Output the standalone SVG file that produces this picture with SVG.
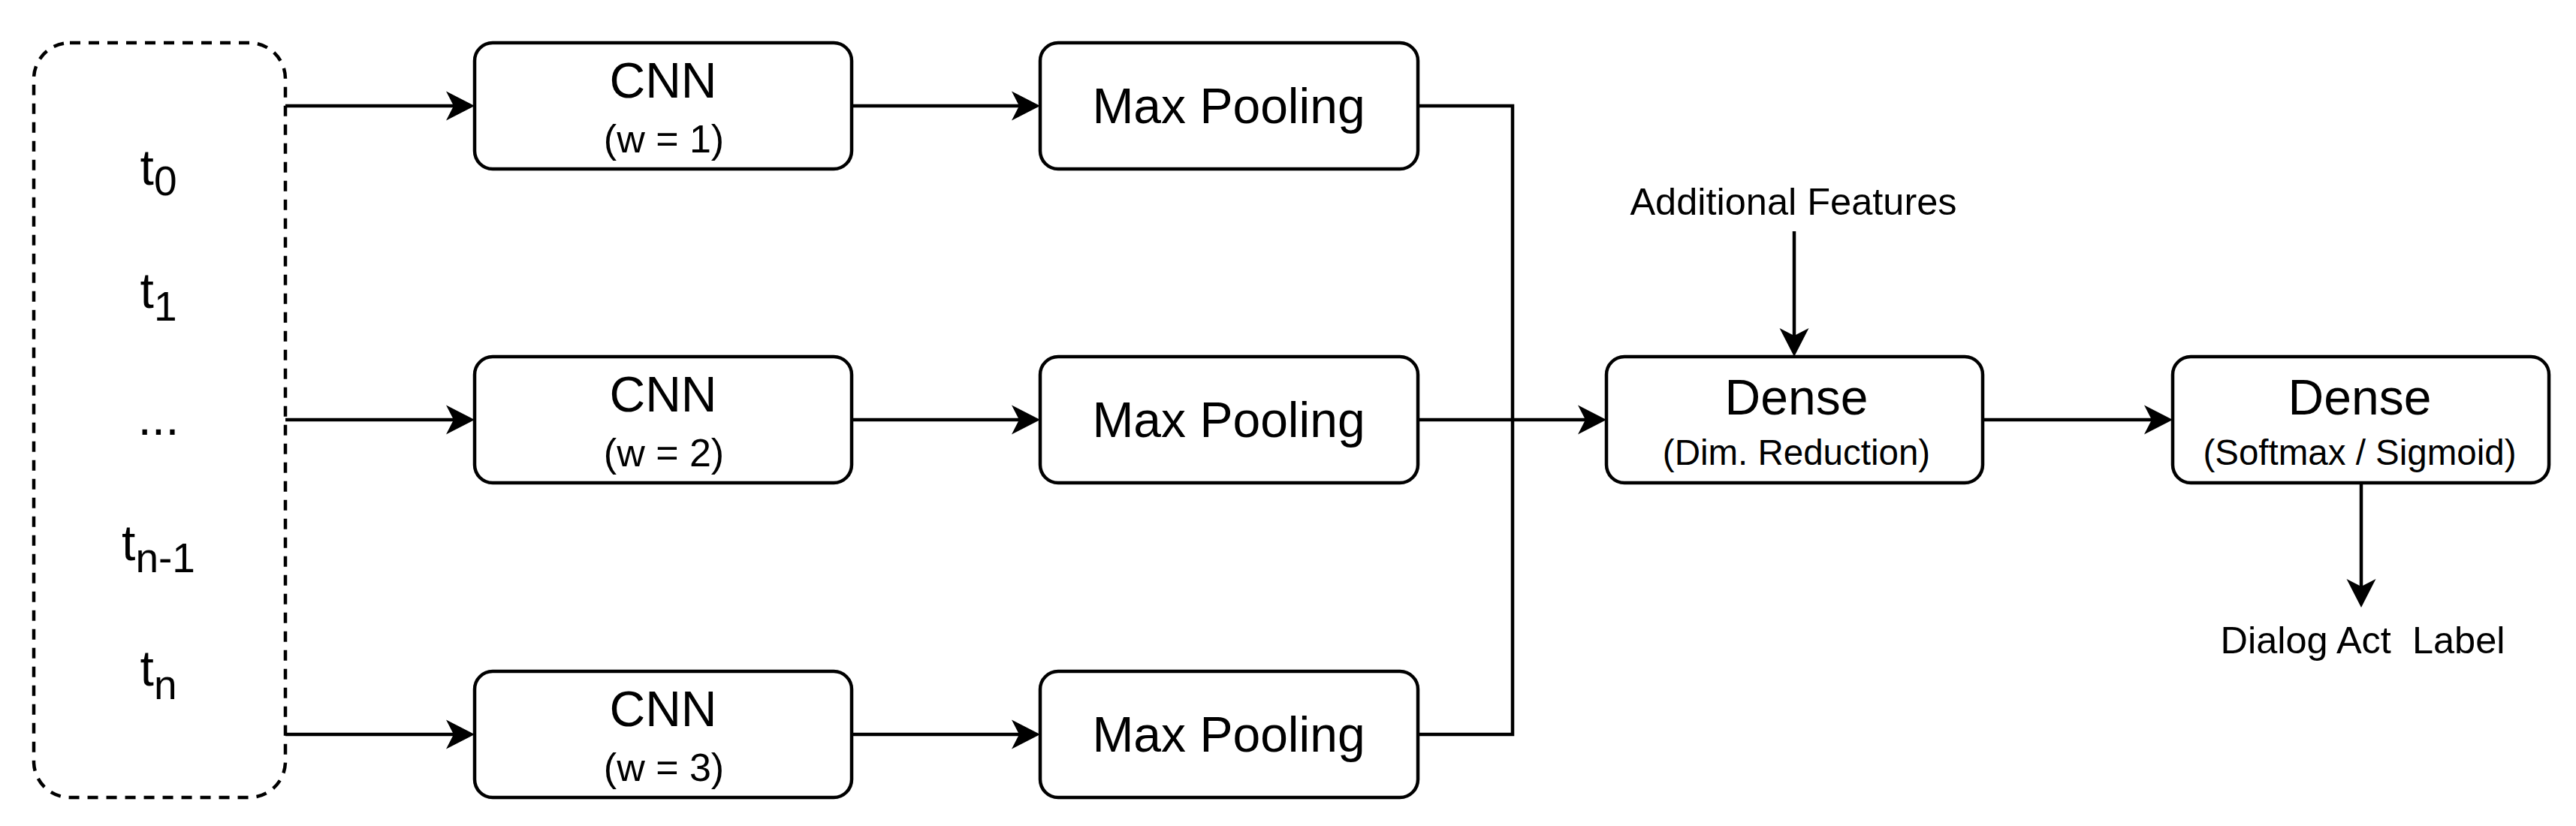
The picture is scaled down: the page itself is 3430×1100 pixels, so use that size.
<svg xmlns="http://www.w3.org/2000/svg" width="3430" height="1100" viewBox="0 0 3430 1100">
<style>
.box{fill:#fff;stroke:#000;stroke-width:4.5}
.dash{fill:#fff;stroke:#000;stroke-width:4.5;stroke-dasharray:14 11}
.edge{fill:none;stroke:#000;stroke-width:4.5;marker-end:url(#arr)}
.line{fill:none;stroke:#000;stroke-width:4.5}
text{font-family:"Liberation Sans",Arial,Helvetica,sans-serif;fill:#000;text-anchor:middle}
.big{font-size:66px}
.small{font-size:50.5px}
.w{font-size:52px}
.sub{font-size:47.5px}
</style>
<defs>
<marker id="arr" markerUnits="userSpaceOnUse" markerWidth="40" markerHeight="42" viewBox="0 0 40 42" refX="10" refY="21" orient="auto">
<path d="M0,1.5 L38,21 L0,40.5 L10,21 Z" fill="#000"/>
</marker>
</defs>
<rect width="3430" height="1100" fill="#fff"/>
<g id="connectors">
<path class="edge" d="M380,141 H604"/>
<path class="edge" d="M380,559 H604"/>
<path class="edge" d="M380,978 H604"/>
<path class="edge" d="M1134,141 H1357"/>
<path class="edge" d="M1134,559 H1357"/>
<path class="edge" d="M1134,978 H1357"/>
<path class="line" d="M1888,141 H2014 V978 H1888"/>
<path class="edge" d="M1888,559 H2111"/>
<path class="edge" d="M2389,308 V447"/>
<path class="edge" d="M2640,559 H2865"/>
<path class="edge" d="M3144,643 V781"/>
</g>
<g id="input">
<rect class="dash" x="45" y="57" width="335" height="1005" rx="48" ry="48"/>
<text class="big" x="211" y="246">t<tspan dy="14" font-size="55">0</tspan></text>
<text class="big" x="211" y="410">t<tspan dy="17" font-size="55">1</tspan></text>
<text class="big" x="211" y="579">...</text>
<text class="big" x="211" y="746">t<tspan dy="16" font-size="55">n-1</tspan></text>
<text class="big" x="211" y="913">t<tspan dy="18" font-size="55">n</tspan></text>
</g>
<g id="cnn1">
<rect class="box" x="632" y="57" width="502" height="168" rx="24" ry="24"/>
<text class="big" x="883" y="130">CNN</text>
<text class="w" x="884" y="203">(w = 1)</text>
</g>
<g id="cnn2">
<rect class="box" x="632" y="475" width="502" height="168" rx="24" ry="24"/>
<text class="big" x="883" y="548">CNN</text>
<text class="w" x="884" y="621">(w = 2)</text>
</g>
<g id="cnn3">
<rect class="box" x="632" y="894" width="502" height="168" rx="24" ry="24"/>
<text class="big" x="883" y="967">CNN</text>
<text class="w" x="884" y="1040">(w = 3)</text>
</g>
<g id="pool1">
<rect class="box" x="1385" y="57" width="503" height="168" rx="24" ry="24"/>
<text class="big" x="1636" y="164">Max Pooling</text>
</g>
<g id="pool2">
<rect class="box" x="1385" y="475" width="503" height="168" rx="24" ry="24"/>
<text class="big" x="1636" y="582">Max Pooling</text>
</g>
<g id="pool3">
<rect class="box" x="1385" y="894" width="503" height="168" rx="24" ry="24"/>
<text class="big" x="1636" y="1001">Max Pooling</text>
</g>
<g id="additional">
<text class="small" x="2388" y="286">Additional Features</text>
</g>
<g id="dense1">
<rect class="box" x="2139" y="475" width="501" height="168" rx="24" ry="24"/>
<text class="big" x="2392" y="552">Dense</text>
<text class="sub" x="2392" y="619">(Dim. Reduction)</text>
</g>
<g id="dense2">
<rect class="box" x="2893" y="475" width="501" height="168" rx="24" ry="24"/>
<text class="big" x="3142" y="552">Dense</text>
<text class="sub" x="3142" y="619">(Softmax / Sigmoid)</text>
</g>
<g id="label">
<text class="small" x="3146" y="870" xml:space="preserve">Dialog Act  Label</text>
</g>
</svg>
